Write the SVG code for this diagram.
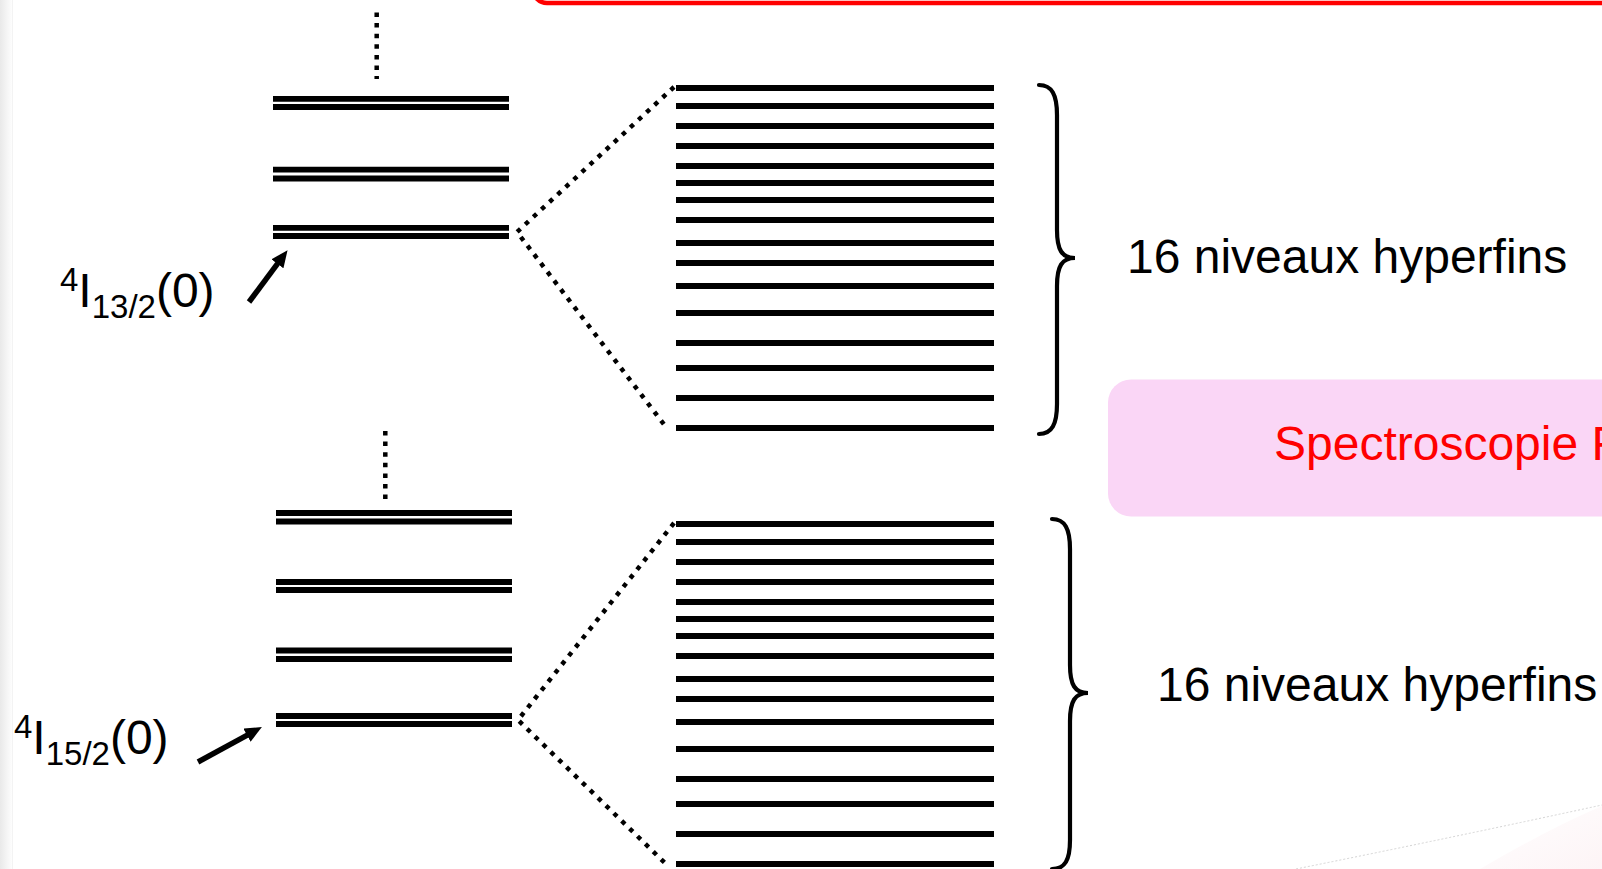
<svg xmlns="http://www.w3.org/2000/svg" width="1602" height="869" viewBox="0 0 1602 869">
<style>
.lv{stroke:#000;stroke-width:5.8;fill:none}
.hf{stroke:#000;stroke-width:5.8;fill:none}
.dg{stroke:#000;stroke-width:4.5;stroke-dasharray:4.5 6.5;fill:none}
.vd{stroke:#000;stroke-width:4.5;stroke-dasharray:4.5 6.1;fill:none}
.ar{stroke:#000;stroke-width:5.5;fill:none}
.br{stroke:#000;stroke-width:4.2;fill:none;stroke-linecap:round}
.t{font-family:"Liberation Sans",Arial,sans-serif;font-size:48px;fill:#000}
</style>
<defs>
<linearGradient id="edge" x1="0" y1="0" x2="1" y2="0">
<stop offset="0" stop-color="#e9e9e9"/>
<stop offset="1" stop-color="#ffffff"/>
</linearGradient>
<linearGradient id="sw" x1="0" y1="0" x2="1" y2="1">
<stop offset="0" stop-color="#ffffff"/>
<stop offset="1" stop-color="#fdf4f6"/>
</linearGradient>
<marker id="ah" viewBox="0 0 17 15" refX="4" refY="7.5" markerWidth="17" markerHeight="15" markerUnits="userSpaceOnUse" orient="auto">
<path d="M0,0 L17,7.5 L0,15 Z" fill="#000"/>
</marker>
</defs>
<rect width="1602" height="869" fill="#fff"/>
<g id="background">
<rect x="0" y="0" width="13" height="869" fill="url(#edge)"/>
<line x1="12.5" y1="0" x2="12.5" y2="869" stroke="#f3f3f3" stroke-width="1"/>
<path d="M1480,869 Q1550,828 1602,806 L1602,869 Z" fill="url(#sw)"/>
<path d="M1296,869 Q1450,838 1602,805" fill="none" stroke="#d4d4d4" stroke-width="1" stroke-dasharray="2 2"/>
</g>
<g id="red-frame">
<rect x="533" y="-60" width="1200" height="63" rx="14" fill="none" stroke="#ff0000" stroke-width="4.5"/>
</g>
<g id="levels-13-2">
<line class="lv" x1="273" y1="98.8" x2="509" y2="98.8"/>
<line class="lv" x1="273" y1="107" x2="509" y2="107"/>
<line class="lv" x1="273" y1="169.7" x2="509" y2="169.7"/>
<line class="lv" x1="273" y1="178.5" x2="509" y2="178.5"/>
<line class="lv" x1="273" y1="227.8" x2="509" y2="227.8"/>
<line class="lv" x1="273" y1="236" x2="509" y2="236"/>
</g>
<g id="levels-15-2">
<line class="lv" x1="276" y1="513" x2="512" y2="513"/>
<line class="lv" x1="276" y1="521.5" x2="512" y2="521.5"/>
<line class="lv" x1="276" y1="582" x2="512" y2="582"/>
<line class="lv" x1="276" y1="590" x2="512" y2="590"/>
<line class="lv" x1="276" y1="650.5" x2="512" y2="650.5"/>
<line class="lv" x1="276" y1="659" x2="512" y2="659"/>
<line class="lv" x1="276" y1="716" x2="512" y2="716"/>
<line class="lv" x1="276" y1="724" x2="512" y2="724"/>
</g>
<g id="hyperfine-13-2">
<path class="hf" d="M676,88H994M676,106H994M676,126H994M676,146H994M676,166H994M676,183H994M676,200H994M676,220H994M676,243H994M676,263H994M676,286H994M676,313H994M676,343H994M676,368H994M676,398H994M676,428H994"/>
</g>
<g id="hyperfine-15-2">
<path class="hf" d="M676,524H994M676,542H994M676,562H994M676,582H994M676,602H994M676,619H994M676,636H994M676,656H994M676,679H994M676,699H994M676,722H994M676,749H994M676,779H994M676,804H994M676,834H994M676,864H994"/>
</g>
<g id="label-13-2">
<text class="t" x="60" y="307"><tspan font-size="33" dy="-16">4</tspan><tspan dy="16">I</tspan><tspan font-size="33" dy="11">13/2</tspan><tspan dy="-11">(0)</tspan></text>
</g>
<g id="label-15-2">
<text class="t" x="14" y="754"><tspan font-size="33" dy="-16">4</tspan><tspan dy="16">I</tspan><tspan font-size="33" dy="11">15/2</tspan><tspan dy="-11">(0)</tspan></text>
</g>
<g id="brace-top">
<path class="br" d="M1039,85 C1052,85 1057,95 1057,115 L1057,230 C1057,250 1062,258 1075,258 C1062,258 1057,266 1057,286 L1057,404 C1057,424 1052,434 1039,434"/>
<text class="t" x="1127" y="273">16 niveaux hyperfins</text>
</g>
<g id="brace-bottom">
<path class="br" d="M1052,519 C1065,519 1070,529 1070,549 L1070,665 C1070,685 1075,693 1088,693 C1075,693 1070,701 1070,721 L1070,840 C1070,860 1065,869 1052,869"/>
<text class="t" x="1157" y="701">16 niveaux hyperfins</text>
</g>
<g id="spectro-box">
<rect x="1108" y="379.5" width="560" height="137" rx="23" fill="#fad6f6"/>
<text class="t" x="1274" y="460" style="fill:#ff0000">Spectroscopie F</text>
</g>
<g id="connectors">
<line class="vd" x1="376.7" y1="12.5" x2="376.7" y2="79"/>
<line class="vd" x1="385.3" y1="431" x2="385.3" y2="499"/>
<path class="dg" d="M674,87 L517,232 L666,427"/>
<path class="dg" d="M674,523 L518,720 L666,864"/>
<line class="ar" x1="249" y1="302" x2="279.8" y2="260.6" marker-end="url(#ah)"/>
<line class="ar" x1="198" y1="762" x2="250.5" y2="733.3" marker-end="url(#ah)"/>
</g>
</svg>
